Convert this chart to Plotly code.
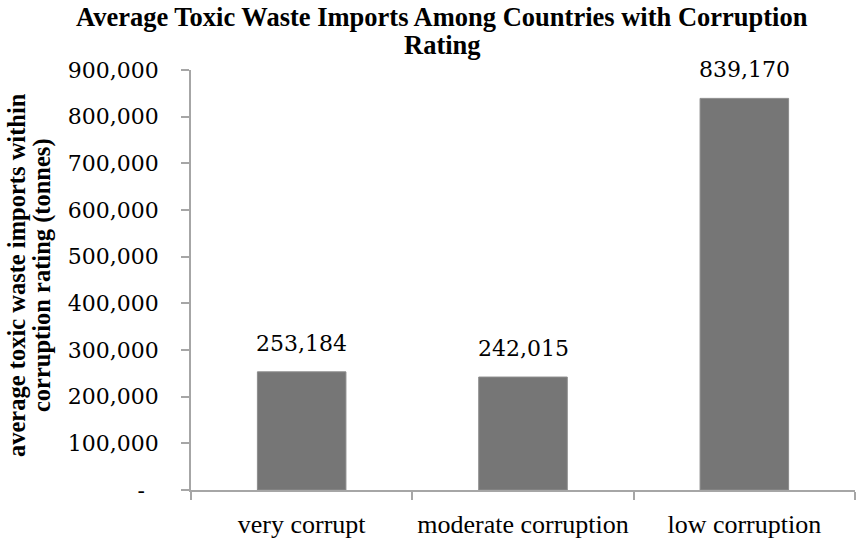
import plotly.graph_objects as go

categories = ["very corrupt", "moderate corruption", "low corruption"]
avg_imports = [253184, 242015, 839170]
tick_values = [0, 100000, 200000, 300000, 400000, 500000, 600000, 700000, 800000, 900000]
tick_labels = ["-\u00a0\u00a0"] + [f"{v:,}" for v in tick_values[1:]]

title_lines = ["Average Toxic Waste Imports Among Countries with Corruption", "Rating"]
ytitle_lines = ["average toxic waste imports within", "corruption rating (tonnes)"]

AXIS = "#a6a6a6"
SERIF = "Liberation Serif, Times New Roman, serif"
NUM = "DejaVu Serif, serif"

W, H = 857, 540
ML, MR, MT, MB = 191, 2, 70, 50
PW, PH = W - ML - MR, H - MT - MB


def px_x(p):
    return (p - ML) / PW


def px_y(p):
    return (H - MB - p) / PH


fig = go.Figure()
fig.add_trace(go.Bar(
    x=categories,
    y=avg_imports,
    marker=dict(color="#767676", line=dict(color="#8c8c8c", width=1)),
    width=0.4,
    hoverinfo="skip",
))

# value labels above each bar
for c, v in zip(categories, avg_imports):
    fig.add_annotation(
        x=c, y=v, xref="x", yref="y", text=f"{v:,}", showarrow=False,
        yanchor="bottom", yshift=14, font=dict(family=NUM, size=22, color="black"),
    )

# chart title, two lines
fig.add_annotation(
    xref="paper", yref="paper", x=px_x(442), y=px_y(0),
    xanchor="center", yanchor="top", text=f"<b>{title_lines[0]}</b>", showarrow=False,
    font=dict(family=SERIF, size=26.5, color="black"),
)
fig.add_annotation(
    xref="paper", yref="paper", x=px_x(442), y=px_y(62),
    xanchor="center", yanchor="bottom", text=f"<b>{title_lines[1]}</b>", showarrow=False,
    font=dict(family=SERIF, size=26.5, color="black"),
)

# vertical axis title, two lines
for text, xpix in zip(ytitle_lines, [16, 42]):
    fig.add_annotation(
        xref="paper", yref="paper", x=px_x(xpix), y=px_y(275),
        xanchor="center", yanchor="middle", text=f"<b>{text}</b>",
        textangle=-90, showarrow=False,
        font=dict(family=SERIF, size=24.5, color="black"),
    )

fig.update_layout(
    width=W, height=H,
    margin=dict(l=ML, r=MR, t=MT, b=MB, autoexpand=False),
    paper_bgcolor="white", plot_bgcolor="white",
    showlegend=False,
    xaxis=dict(
        showline=True, linecolor=AXIS, linewidth=1.5,
        ticks="outside", tickson="boundaries", ticklen=8, tickcolor=AXIS, tickwidth=1.5,
        tickfont=dict(family=SERIF, size=26, color="black"),
        tickangle=0, automargin=False,
        ticklabelstandoff=10,
        showgrid=False, zeroline=False,
    ),
    yaxis=dict(
        range=[0, 900000], tickvals=tick_values, ticktext=tick_labels,
        showline=True, linecolor=AXIS, linewidth=1.5,
        ticks="outside", ticklen=8, tickcolor=AXIS, tickwidth=1.5,
        tickfont=dict(family=NUM, size=22, color="black"),
        automargin=False,
        ticklabelstandoff=18,
        showgrid=False, zeroline=False,
    ),
)

fig.write_html("out.html")
